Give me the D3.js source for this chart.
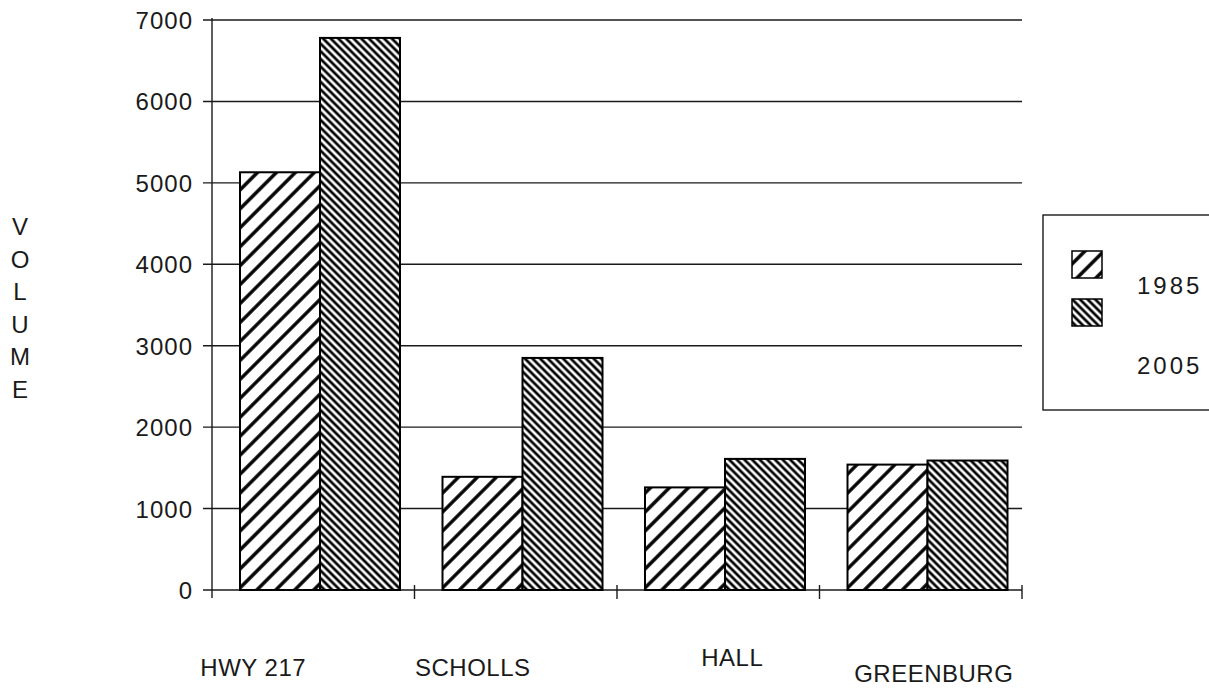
<!DOCTYPE html>
<html>
<head>
<meta charset="utf-8">
<script src="https://cdn.jsdelivr.net/npm/d3@7"></script>
<style>
  body { margin: 0; background: #fff; }
  svg { display: block; font-family: "Liberation Sans", Arial, sans-serif; }
</style>
</head>
<body>
<div id="chart"></div>
<script>
// data
const categories = ["HWY 217", "SCHOLLS", "HALL", "GREENBURG"];
const years = ["1985", "2005"];
const volume1985 = [5130, 1390, 1260, 1540];
const volume2005 = [6780, 2850, 1610, 1590];
const yTicks = [0, 1000, 2000, 3000, 4000, 5000, 6000, 7000];
const axisTitle = "VOLUME";

const width = 1209, height = 690;
const plot = { left: 212, right: 1022, top: 20, bottom: 590 };

// the category names sit a bit off the bar centres in the original
const labelShift = [
  { dx: -60, y: 676 },
  { dx: -43, y: 676 },
  { dx: 14, y: 666 },
  { dx: 13, y: 682 }
];

const rows = categories.map((c, i) => ({
  category: c,
  values: [
    { year: years[0], v: volume1985[i] },
    { year: years[1], v: volume2005[i] }
  ]
}));

const svg = d3.select("#chart")
  .append("svg")
  .attr("width", width)
  .attr("height", height);

// hatch fills
const defs = svg.append("defs");
function hatch(id, size, stroke, angle) {
  const p = defs.append("pattern")
    .attr("id", id)
    .attr("patternUnits", "userSpaceOnUse")
    .attr("width", size)
    .attr("height", size)
    .attr("patternTransform", `rotate(${angle})`);
  p.append("rect").attr("width", size).attr("height", size).attr("fill", "#fff");
  p.append("line")
    .attr("x1", size / 2).attr("y1", 0)
    .attr("x2", size / 2).attr("y2", size)
    .attr("stroke", "#000")
    .attr("stroke-width", stroke);
}
hatch("hatch1985", 13.4, 3.4, 45);
hatch("hatch2005", 5.4, 2.7, -45);
const fillFor = { "1985": "url(#hatch1985)", "2005": "url(#hatch2005)" };

const x = d3.scaleBand().domain(categories).range([plot.left, plot.right]);
const xSub = d3.scaleBand().domain(years).range([28, 188]);
const y = d3.scaleLinear().domain([0, 7000]).range([plot.bottom, plot.top]);

const ink = "#1a1a1a";

// gridlines with little ticks left of the axis
svg.append("g")
  .selectAll("line")
  .data(yTicks)
  .join("line")
  .attr("x1", plot.left - 9)
  .attr("x2", plot.right)
  .attr("y1", d => y(d))
  .attr("y2", d => y(d))
  .attr("stroke", ink)
  .attr("stroke-width", 1.4);

svg.append("g")
  .selectAll("text")
  .data(yTicks)
  .join("text")
  .attr("x", 193)
  .attr("y", d => y(d) + 9)
  .attr("text-anchor", "end")
  .attr("font-size", "24px")
  .attr("letter-spacing", "1px")
  .attr("fill", ink)
  .text(d => d);

// y axis
svg.append("line")
  .attr("x1", plot.left).attr("x2", plot.left)
  .attr("y1", y(7000) - 2).attr("y2", y(0) + 8)
  .attr("stroke", ink)
  .attr("stroke-width", 1.4);

// x ticks at band edges
svg.append("g")
  .selectAll("line")
  .data(categories)
  .join("line")
  .attr("x1", d => x(d) + x.bandwidth())
  .attr("x2", d => x(d) + x.bandwidth())
  .attr("y1", y(0) - 5)
  .attr("y2", y(0) + 9)
  .attr("stroke", ink)
  .attr("stroke-width", 1.4);

// bars
const groups = svg.append("g")
  .selectAll("g")
  .data(rows)
  .join("g")
  .attr("transform", d => `translate(${x(d.category)},0)`);

groups.selectAll("rect")
  .data(d => d.values)
  .join("rect")
  .attr("x", d => xSub(d.year))
  .attr("width", xSub.bandwidth())
  .attr("y", d => y(d.v))
  .attr("height", d => y(0) - y(d.v))
  .attr("fill", d => fillFor[d.year])
  .attr("stroke", "#000")
  .attr("stroke-width", 2);

// category labels
svg.append("g")
  .selectAll("text")
  .data(categories)
  .join("text")
  .attr("x", (d, i) => x(d) + x.bandwidth() / 2 + labelShift[i].dx)
  .attr("y", (d, i) => labelShift[i].y)
  .attr("text-anchor", "middle")
  .attr("font-size", "24px")
  .attr("letter-spacing", "0.5px")
  .attr("fill", ink)
  .text(d => d);

// stacked axis title
svg.append("g")
  .selectAll("text")
  .data(axisTitle.split(""))
  .join("text")
  .attr("x", 20)
  .attr("y", (d, i) => 235 + i * 32.6)
  .attr("text-anchor", "middle")
  .attr("font-size", "24px")
  .attr("fill", ink)
  .text(d => d);

// legend box, runs off the right edge like the scan
const legend = svg.append("g");
legend.append("rect")
  .attr("x", 1043).attr("y", 215)
  .attr("width", 200).attr("height", 195)
  .attr("fill", "none")
  .attr("stroke", ink)
  .attr("stroke-width", 1.4);

const legendItems = legend.selectAll("g")
  .data(years)
  .join("g")
  .attr("transform", (d, i) => `translate(0, ${i * 48})`);

legendItems.append("rect")
  .attr("x", 1072).attr("y", 251)
  .attr("width", 30).attr("height", 27)
  .attr("fill", d => fillFor[d])
  .attr("stroke", "#000")
  .attr("stroke-width", 1.5);

legendItems.append("text")
  .attr("x", 1137)
  .attr("y", (d, i) => 294 + i * 32)
  .attr("font-size", "24px")
  .attr("letter-spacing", "3px")
  .attr("fill", ink)
  .text(d => d);
</script>
</body>
</html>
